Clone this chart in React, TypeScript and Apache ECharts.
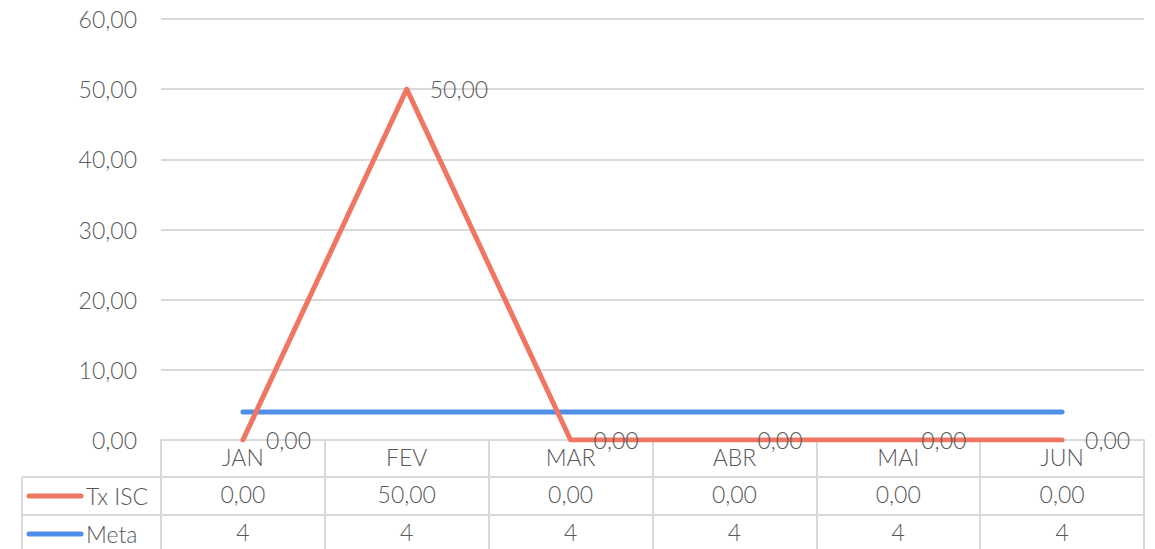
import React, { useEffect, useRef } from "react";
import * as echarts from "echarts";

const categories = ["JAN", "FEV", "MAR", "ABR", "MAI", "JUN"];
const txIsc = [0, 50, 0, 0, 0, 0];
const meta = [4, 4, 4, 4, 4, 4];
const seriesNames = ["Tx ISC", "Meta"];
const yMin = 0;
const yMax = 60;
const yInterval = 10;

const TEXT = "#595959";
const GRID = "#d9d9d9";
const ORANGE = "#F07562";
const BLUE = "#4F8FEA";
const FONT = "Lato";
const FS = 23;

const fmt = (v: number) => v.toFixed(2).replace(".", ",");

export default function App() {
  const ref = useRef<HTMLDivElement>(null);
  useEffect(() => {
    if (!ref.current) return;
    const chart = echarts.init(ref.current, undefined, { renderer: "svg" });
    const labelStyle = { color: TEXT, fontSize: FS, fontFamily: FONT, fontWeight: 300 as any };
    const rowH = 38;
    chart.setOption({
      animation: false,
      grid: { left: 161, right: 11, top: 19, bottom: 109, containLabel: false },
      xAxis: [
        {
          type: "category",
          data: categories,
          boundaryGap: true,
          axisLine: { show: true, lineStyle: { color: GRID, width: 2 } },
          axisTick: { show: true, interval: 0, length: 130, lineStyle: { color: GRID, width: 2 } },
          axisLabel: { ...labelStyle, margin: 5, interval: 0 },
        },
        {
          type: "category",
          data: txIsc.map(fmt),
          position: "bottom",
          offset: rowH - 1,
          axisLine: { show: false },
          axisTick: { show: false },
          axisLabel: { ...labelStyle, margin: 5, interval: 0 },
        },
        {
          type: "category",
          data: meta.map((v) => String(v)),
          position: "bottom",
          offset: rowH * 2 - 1,
          axisLine: { show: false },
          axisTick: { show: false },
          axisLabel: { ...labelStyle, margin: 5, interval: 0 },
        },
      ],
      yAxis: {
        type: "value",
        min: yMin,
        max: yMax,
        interval: yInterval,
        axisLine: { show: false },
        axisTick: { show: false },
        splitLine: { lineStyle: { color: GRID, width: 2 } },
        axisLabel: { ...labelStyle, margin: 24, formatter: (v: number) => fmt(v) },
      },
      series: [
        {
          name: seriesNames[0],
          type: "line",
          data: txIsc,
          showSymbol: true,
          symbol: "circle",
          symbolSize: 2,
          itemStyle: { color: ORANGE },
          z: 3,
          lineStyle: { color: ORANGE, width: 5, cap: "round", join: "round" },
          label: {
            show: true,
            position: "right",
            distance: 22,
            ...labelStyle,
            formatter: (p: any) => fmt(p.value),
          },
          labelLayout: { hideOverlap: false },
        },
        {
          name: seriesNames[1],
          type: "line",
          data: meta,
          showSymbol: false,
          symbol: "none",
          z: 2,
          lineStyle: { color: BLUE, width: 5, cap: "round" },
        },
      ],
    });

    const x0 = chart.convertToPixel({ xAxisIndex: 0 }, 0) as number;
    const x1 = chart.convertToPixel({ xAxisIndex: 0 }, 1) as number;
    const xLast = chart.convertToPixel({ xAxisIndex: 0 }, categories.length - 1) as number;
    const half = (x1 - x0) / 2;
    const rightEdge = xLast + half;
    const y0 = chart.convertToPixel({ yAxisIndex: 0 }, yMin) as number;
    const tableLeft = 22;
    const r1 = y0 + rowH - 1;
    const r2 = r1 + rowH;
    const r3 = r2 + rowH;
    const lineSt = { stroke: GRID, lineWidth: 2 };
    const colors = [ORANGE, BLUE];
    const graphic: any[] = [
      { type: "line", shape: { x1: tableLeft, y1: r1, x2: rightEdge, y2: r1 }, style: lineSt, silent: true },
      { type: "line", shape: { x1: tableLeft, y1: r2, x2: rightEdge, y2: r2 }, style: lineSt, silent: true },
      { type: "line", shape: { x1: tableLeft, y1: r3, x2: rightEdge, y2: r3 }, style: lineSt, silent: true },
      { type: "line", shape: { x1: tableLeft, y1: r1, x2: tableLeft, y2: r3 + 10 }, style: lineSt, silent: true },
    ];
    seriesNames.forEach((name, i) => {
      const cy = r1 + rowH * i + rowH / 2;
      graphic.push({
        type: "line",
        shape: { x1: tableLeft + 7, y1: cy, x2: tableLeft + 59, y2: cy },
        style: { stroke: colors[i], lineWidth: 5, lineCap: "round" },
        silent: true,
      });
      graphic.push({
        type: "text",
        x: tableLeft + 64,
        y: cy,
        style: {
          text: name,
          fill: TEXT,
          fontSize: FS,
          fontFamily: FONT,
          fontWeight: 300,
          verticalAlign: "middle",
          align: "left",
        },
        silent: true,
      });
    });
    chart.setOption({ graphic });

    return () => chart.dispose();
  }, []);
  return (
    <div
      ref={ref}
      style={{ position: "fixed", left: 0, top: 0, width: 1155, height: 549, background: "#fff" }}
    />
  );
}
